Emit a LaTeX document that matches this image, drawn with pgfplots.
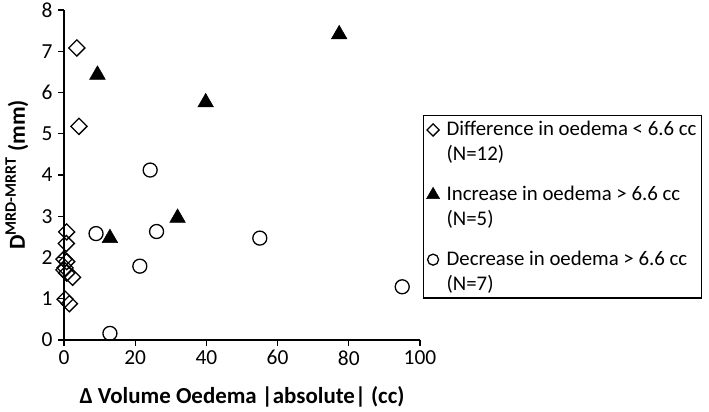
\documentclass[border=0pt]{standalone}
\usepackage{pgfplots}
\pgfplotsset{compat=1.18}
\usepackage{fontspec}
\setmainfont{Carlito}
\begin{document}
\begin{tikzpicture}[x=1bp,y=1bp]
\path[use as bounding box] (0,0) rectangle (709,411);
\begin{axis}[
  at={(64bp,71bp)}, anchor=south west,
  width=356bp, height=330bp, scale only axis,
  xmin=0, xmax=100, ymin=0, ymax=8,
  xtick={0,20,40,60,80,100}, ytick={0,1,2,3,4,5,6,7,8},
  axis lines*=left,
  axis line style={line width=1.2bp},
  tick style={line width=1.2bp, black},
  tick align=outside, major tick length=6bp,
  tick label style={font=\fontsize{21.5}{21.5}\selectfont},
  xticklabel style={yshift=-1bp},
  yticklabel style={xshift=-2bp},
  /pgf/number format/assume math mode=true,
  xlabel={Δ Volume Oedema |absolute| (cc)},
  xlabel style={font=\bfseries\fontsize{23}{23}\selectfont, at={(axis description cs:0.5,0)}, anchor=base, yshift=-63bp},
  ylabel={D\textsuperscript{MRD-MRRT} (mm)},
  ylabel style={font=\bfseries\fontsize{23}{23}\selectfont, at={(axis description cs:0,0.5)}, anchor=center, yshift=47bp},
  legend style={at={(axis description cs:1.0084,0.682)}, anchor=north west,
    font=\fontsize{20.9}{25}\selectfont, draw=black, line width=1.2bp,
    cells={align=left}, row sep=20bp, column sep=5bp, inner xsep=3bp, inner ysep=4bp},
  legend cell align=left,
]
\addplot[only marks, mark=square, mark size=5.7bp, mark options={rotate=45, fill=white, line width=1.3bp},
  legend image post style={mark size=4.3bp, yshift=12bp, xshift=7bp}]
coordinates {(3.6,7.08)(4.2,5.18)(0.75,2.62)(0.65,2.34)(0,1.96)(0.75,1.9)(0.3,1.75)(0,1.7)(0.75,1.62)(2.4,1.52)(0.3,0.99)(1.5,0.88)};
\addlegendentry{Difference in oedema < 6.6 cc\\(N=12)}
\addplot[only marks, mark=triangle*, mark size=9bp, mark options={fill=black, line width=0.5bp},
  legend image post style={mark size=7.5bp, yshift=12bp, xshift=7bp}]
coordinates {(9.4,6.43)(12.9,2.47)(31.9,2.96)(39.8,5.76)(77.3,7.41)};
\addlegendentry{Increase in oedema > 6.6 cc\\(N=5)}
\addplot[only marks, mark=o, mark size=7bp, mark options={fill=white, line width=1.3bp},
  legend image post style={mark size=5.5bp, yshift=12bp, xshift=7bp}]
coordinates {(9,2.58)(12.9,0.16)(21.3,1.79)(24.2,4.12)(26,2.63)(55,2.47)(95,1.29)};
\addlegendentry{Decrease in oedema > 6.6 cc\\(N=7)}
\end{axis}
\end{tikzpicture}
\end{document}
